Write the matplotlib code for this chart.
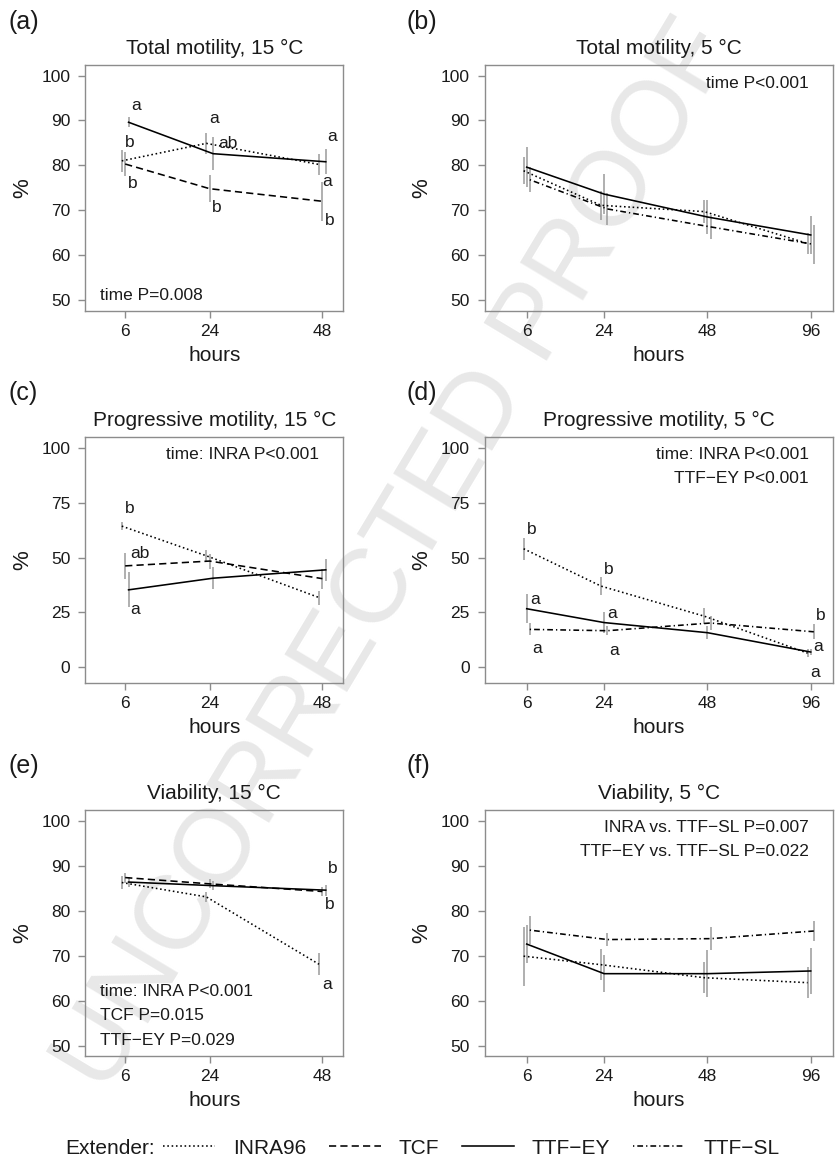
import matplotlib
matplotlib.use("Agg")
import matplotlib.pyplot as plt
from matplotlib.lines import Line2D

plt.rcParams['font.family'] = ['Liberation Sans', 'DejaVu Sans']

MINUS = '\u2212'

# sampling times (hours)
hours_15 = [6, 24, 48]
hours_5 = [6, 24, 48, 96]

# ---------------- (a) Total motility, 15 C ----------------
tm15_inra = [81.0, 84.9, 80.2]
tm15_inra_se = [2.4, 2.3, 2.4]
tm15_tcf = [80.3, 74.8, 72.0]
tm15_tcf_se = [2.6, 3.0, 4.3]
tm15_ey = [89.6, 82.6, 80.8]
tm15_ey_se = [1.1, 3.7, 2.8]

# ---------------- (b) Total motility, 5 C ----------------
tm5_inra = [78.8, 71.1, 69.7, 62.6]
tm5_inra_se = [3.0, 3.2, 2.6, 2.4]
tm5_ey = [79.6, 73.6, 68.5, 64.5]
tm5_ey_se = [4.5, 4.5, 3.8, 4.2]
tm5_sl = [76.8, 70.3, 66.3, 62.4]
tm5_sl_se = [2.8, 3.5, 2.7, 4.3]

# ---------------- (c) Progressive motility, 15 C ----------------
pm15_inra = [64.3, 50.8, 31.8]
pm15_inra_se = [1.9, 2.8, 3.2]
pm15_tcf = [46.2, 48.4, 40.4]
pm15_tcf_se = [5.9, 3.4, 4.5]
pm15_ey = [35.3, 40.6, 44.4]
pm15_ey_se = [8.0, 5.0, 5.1]

# ---------------- (d) Progressive motility, 5 C ----------------
pm5_inra = [54.0, 37.0, 23.3, 6.5]
pm5_inra_se = [5.1, 4.0, 3.6, 1.7]
pm5_ey = [26.7, 20.4, 15.8, 7.0]
pm5_ey_se = [6.6, 4.8, 3.0, 1.5]
pm5_sl = [17.3, 16.7, 20.2, 16.2]
pm5_sl_se = [2.7, 2.1, 3.0, 3.4]

# ---------------- (e) Viability, 15 C ----------------
v15_inra = [86.3, 83.1, 68.1]
v15_inra_se = [1.5, 1.1, 2.4]
v15_tcf = [87.4, 86.0, 84.3]
v15_tcf_se = [1.1, 1.0, 1.0]
v15_ey = [86.4, 85.6, 84.6]
v15_ey_se = [1.2, 1.0, 1.2]

# ---------------- (f) Viability, 5 C ----------------
v5_inra = [69.9, 68.0, 65.1, 64.0]
v5_inra_se = [6.6, 3.4, 3.5, 3.4]
v5_ey = [72.6, 66.0, 66.0, 66.6]
v5_ey_se = [4.2, 4.1, 5.2, 5.2]
v5_sl = [75.7, 73.6, 73.8, 75.5]
v5_sl_se = [3.2, 1.5, 2.5, 2.2]

# significance letters: (letter, hour, y, nudge right of the tick)
letters_a = [('a', 6, 93.4, 0.095), ('b', 6, 85.2, 0.044), ('b', 6, 76.0, 0.068),
             ('a', 24, 90.5, 0.042), ('ab', 24, 84.9, 0.165), ('b', 24, 70.6, 0.065),
             ('a', 48, 86.5, 0.088), ('a', 48, 76.3, 0.040), ('b', 48, 67.8, 0.064)]
letters_c = [('b', 6, 72.5, 0.044), ('ab', 6, 52.0, 0.133), ('a', 6, 26.2, 0.088)]
letters_d = [('b', 6, 62.6, 0.048), ('a', 6, 31.1, 0.080), ('a', 6, 8.4, 0.100),
             ('b', 24, 44.4, 0.045), ('a', 24, 24.7, 0.080), ('a', 24, 7.6, 0.100),
             ('b', 96, 23.5, 0.097), ('a', 96, 9.5, 0.074), ('a', 96, -2.5, 0.042)]
letters_e = [('b', 48, 89.4, 0.090), ('b', 48, 81.5, 0.064), ('a', 48, 63.6, 0.040)]

# statistics notes
notes_a = ['time P=0.008']
notes_b = ['time P<0.001']
notes_c = ['time: INRA P<0.001']
notes_d = ['time: INRA P<0.001', 'TTF' + MINUS + 'EY P<0.001']
notes_e = ['time: INRA P<0.001', 'TCF P=0.015', 'TTF' + MINUS + 'EY P=0.029']
notes_f = ['INRA vs. TTF' + MINUS + 'SL P=0.007',
           'TTF' + MINUS + 'EY vs. TTF' + MINUS + 'SL P=0.022']

extender_names = ['INRA96', 'TCF', 'TTF' + MINUS + 'EY', 'TTF' + MINUS + 'SL']

# ------------------------------------------------------------------
# layout / style
hour_pos = {6: 0.0, 24: 0.75, 48: 1.75, 96: 2.75}
line_styles = {
    'INRA96': (0, (1, 1.7)),
    'TCF': (0, (4.5, 2.6)),
    'TTF' + MINUS + 'EY': '-',
    'TTF' + MINUS + 'SL': (0, (0.8, 1.9, 3.6, 1.9)),
}
DODGE = 0.03
GRAY = '#8c8c8c'
TXT = '#1a1a1a'

W, H = 835, 1159
fig = plt.figure(figsize=(W / 100, H / 100), dpi=100)

# proof watermark behind the panels
fig.text(0.475, 0.52, 'UNCORRECTED PROOF', rotation=59, fontsize=76,
         color='#e8e8e8', ha='center', va='center', zorder=-5)

col_left = {0: 85.3, 1: 484.7}
col_width = {0: 258.0, 1: 348.3}
row_top = [65.0, 436.7, 810.0]
row_h = 246.3

panels = [
    dict(tag='(a)', title='Total motility, 15 \u00b0C', row=0, col=0, hours=hours_15,
         series=[('INRA96', tm15_inra, tm15_inra_se), ('TCF', tm15_tcf, tm15_tcf_se),
                 ('TTF' + MINUS + 'EY', tm15_ey, tm15_ey_se)],
         letters=letters_a, notes=notes_a, note_side='left', yl=(47.5, 102.35),
         yt=[50, 60, 70, 80, 90, 100]),
    dict(tag='(b)', title='Total motility, 5 \u00b0C', row=0, col=1, hours=hours_5,
         series=[('INRA96', tm5_inra, tm5_inra_se), ('TTF' + MINUS + 'EY', tm5_ey, tm5_ey_se),
                 ('TTF' + MINUS + 'SL', tm5_sl, tm5_sl_se)],
         letters=[], notes=notes_b, note_side='right', yl=(47.5, 102.35),
         yt=[50, 60, 70, 80, 90, 100]),
    dict(tag='(c)', title='Progressive motility, 15 \u00b0C', row=1, col=0, hours=hours_15,
         series=[('INRA96', pm15_inra, pm15_inra_se), ('TCF', pm15_tcf, pm15_tcf_se),
                 ('TTF' + MINUS + 'EY', pm15_ey, pm15_ey_se)],
         letters=letters_c, notes=notes_c, note_side='right', yl=(-7.1, 105.0),
         yt=[0, 25, 50, 75, 100]),
    dict(tag='(d)', title='Progressive motility, 5 \u00b0C', row=1, col=1, hours=hours_5,
         series=[('INRA96', pm5_inra, pm5_inra_se), ('TTF' + MINUS + 'EY', pm5_ey, pm5_ey_se),
                 ('TTF' + MINUS + 'SL', pm5_sl, pm5_sl_se)],
         letters=letters_d, notes=notes_d, note_side='right', yl=(-7.1, 105.0),
         yt=[0, 25, 50, 75, 100]),
    dict(tag='(e)', title='Viability, 15 \u00b0C', row=2, col=0, hours=hours_15,
         series=[('INRA96', v15_inra, v15_inra_se), ('TCF', v15_tcf, v15_tcf_se),
                 ('TTF' + MINUS + 'EY', v15_ey, v15_ey_se)],
         letters=letters_e, notes=notes_e, note_side='left', yl=(47.6, 102.45),
         yt=[50, 60, 70, 80, 90, 100]),
    dict(tag='(f)', title='Viability, 5 \u00b0C', row=2, col=1, hours=hours_5,
         series=[('INRA96', v5_inra, v5_inra_se), ('TTF' + MINUS + 'EY', v5_ey, v5_ey_se),
                 ('TTF' + MINUS + 'SL', v5_sl, v5_sl_se)],
         letters=[], notes=notes_f, note_side='right', yl=(47.6, 102.45),
         yt=[50, 60, 70, 80, 90, 100]),
]

for p in panels:
    left = col_left[p['col']]
    width = col_width[p['col']]
    top = row_top[p['row']]
    ax = fig.add_axes([left / W, 1 - (top + row_h) / H, width / W, row_h / H])
    ax.set_facecolor('none')

    # series with small horizontal dodge
    for k, (name, mean, se) in enumerate(p['series']):
        x = [hour_pos[h] + (k - 1) * DODGE for h in p['hours']]
        lo = [m - s for m, s in zip(mean, se)]
        hi = [m + s for m, s in zip(mean, se)]
        ax.vlines(x, lo, hi, color='#9a9a9a', lw=1.1, zorder=2)
        ax.plot(x, mean, color='black', lw=1.15, ls=line_styles[name], zorder=3)

    for lab, h, y, dx in p['letters']:
        ax.text(hour_pos[h] + dx, y, lab, ha='center', va='center',
                fontsize=12.5, color=TXT, zorder=4)

    if p['note_side'] == 'left':
        n = len(p['notes'])
        for i, note in enumerate(p['notes']):
            ax.text(15 / width, (16 + 24.5 * (n - 1 - i)) / row_h, note,
                    transform=ax.transAxes, ha='left', va='center',
                    fontsize=12.5, color=TXT)
    else:
        for i, note in enumerate(p['notes']):
            ax.text(1 - 24.5 / width, 1 - (18 + 24 * i) / row_h, note,
                    transform=ax.transAxes, ha='right', va='center',
                    fontsize=12.5, color=TXT)

    # axes styling
    ax.set_xlim(-40 / 113.0 if p['col'] == 0 else -42 / 103.3,
                (1.75 + 21 / 113.0) if p['col'] == 0 else (2.75 + 22.3 / 103.3))
    ax.set_ylim(*p['yl'])
    ax.set_xticks([hour_pos[h] for h in p['hours']])
    ax.set_xticklabels([str(h) for h in p['hours']])
    ax.set_yticks(p['yt'])
    for sp in ax.spines.values():
        sp.set_color(GRAY)
        sp.set_linewidth(1.0)
    ax.tick_params(axis='both', direction='out', length=4.8, width=1.0,
                   color=GRAY, labelcolor=TXT, labelsize=12.5)
    ax.tick_params(axis='x', pad=4.5)
    ax.tick_params(axis='y', pad=6.0)

    ax.set_title(p['title'], fontsize=15, color=TXT, pad=8)
    ax.set_xlabel('hours', fontsize=15, color=TXT, va='top')
    ax.xaxis.set_label_coords(0.5, -35 / row_h)
    ax.set_ylabel('%', fontsize=16, color=TXT, va='center')
    ax.yaxis.set_label_coords(-63 / width, 0.5)

    fig.text((8 if p['col'] == 0 else 406) / W, 1 - (top - 43.5) / H, p['tag'],
             fontsize=18, color=TXT, ha='left', va='center')

# legend at the bottom
handles = [Line2D([], [], color='black', lw=1.15, ls=line_styles[n]) for n in extender_names]
fig.legend(handles, extender_names, ncol=4, loc='center left',
           bbox_to_anchor=(163 / W, 1 - 1148 / H), frameon=False, fontsize=15,
           handlelength=2.5, handletextpad=0.85, columnspacing=1.1,
           borderpad=0, borderaxespad=0, labelcolor=TXT)
fig.text(65 / W, 1 - 1148 / H, 'Extender:', fontsize=15, color=TXT,
         ha='left', va='center')

fig.savefig('out.png', dpi=100)
